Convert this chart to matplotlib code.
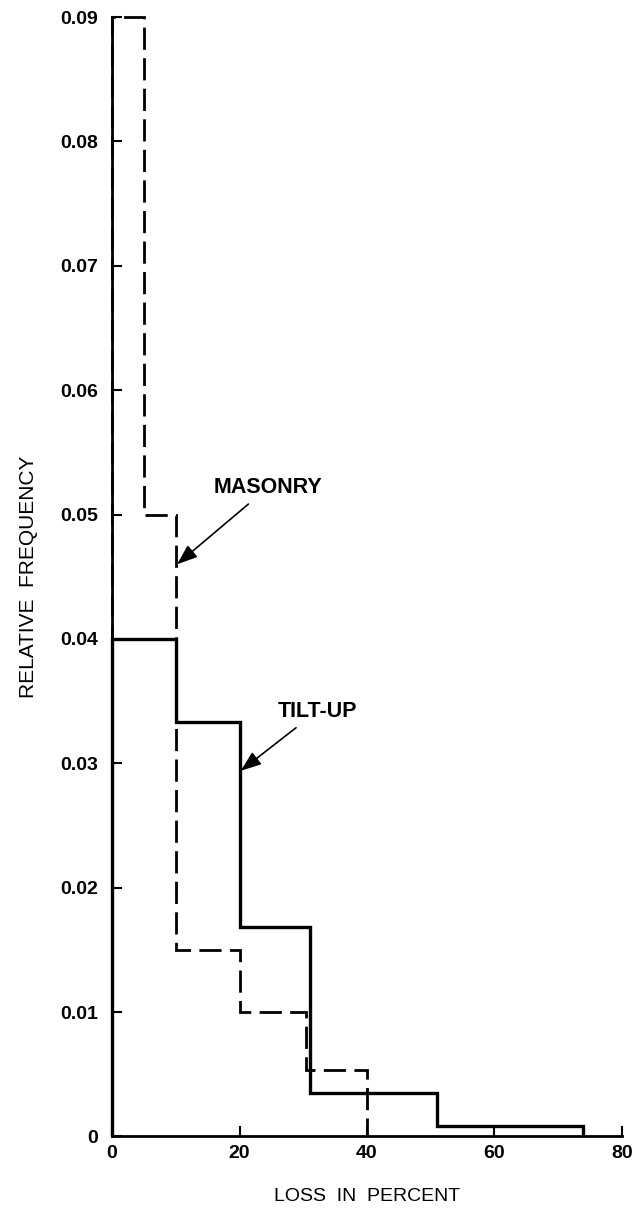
import numpy as np
import matplotlib.pyplot as plt

# histogram outlines
masonry_edges = [0, 5, 10, 20, 30.5, 40]
masonry_freq = [0.09, 0.05, 0.015, 0.010, 0.0053]
tilt_edges = [0, 10, 20, 31, 51, 74]
tilt_freq = [0.040, 0.0333, 0.0168, 0.0035, 0.0008]

yticks = [0, 0.01, 0.02, 0.03, 0.04, 0.05, 0.06, 0.07, 0.08, 0.09]
ylabels = ["0", "0.01", "0.02", "0.03", "0.04", "0.05", "0.06", "0.07", "0.08", "0.09"]
xticks = [0, 20, 40, 60, 80]

plt.rcParams['font.family'] = ['Liberation Sans', 'DejaVu Sans']

fig = plt.figure(figsize=(6.37, 12.18), dpi=100)
ax = fig.add_axes([0.176, 0.067, 0.8, 0.919])

ax.stairs(masonry_freq, masonry_edges, color='black', lw=2.0,
          linestyle=(0, (8, 3)), clip_on=False)
ax.stairs(tilt_freq, tilt_edges, color='black', lw=2.4, clip_on=False)

ax.set_xlim(0, 80)
ax.set_ylim(0, 0.09)
ax.set_yticks(yticks)
ax.set_yticklabels(ylabels)
ax.set_xticks(xticks)

for s in ['top', 'right']:
    ax.spines[s].set_visible(False)
for s in ['left', 'bottom']:
    ax.spines[s].set_linewidth(2.0)

ax.tick_params(direction='in', length=7, width=1.5, labelsize=14)
ax.tick_params(axis='y', pad=10)
ax.tick_params(axis='x', pad=6)
for lab in ax.get_xticklabels() + ax.get_yticklabels():
    lab.set_fontweight('bold')

ax.set_ylabel("RELATIVE  FREQUENCY", fontsize=15, labelpad=16)
ax.set_xlabel("LOSS  IN  PERCENT", fontsize=14, labelpad=19)

ax.annotate("MASONRY", xy=(10.2, 0.046), xytext=(16, 0.0522),
            fontsize=15.5, fontweight='bold', va='center', ha='left',
            arrowprops=dict(arrowstyle='-|>,head_length=0.8,head_width=0.3',
                            color='black', lw=1.2, shrinkA=4, shrinkB=0))
ax.annotate("TILT-UP", xy=(20.2, 0.0294), xytext=(26, 0.0342),
            fontsize=15.5, fontweight='bold', va='center', ha='left',
            arrowprops=dict(arrowstyle='-|>,head_length=0.8,head_width=0.3',
                            color='black', lw=1.2, shrinkA=4, shrinkB=0))

fig.savefig("out.png", dpi=100)
